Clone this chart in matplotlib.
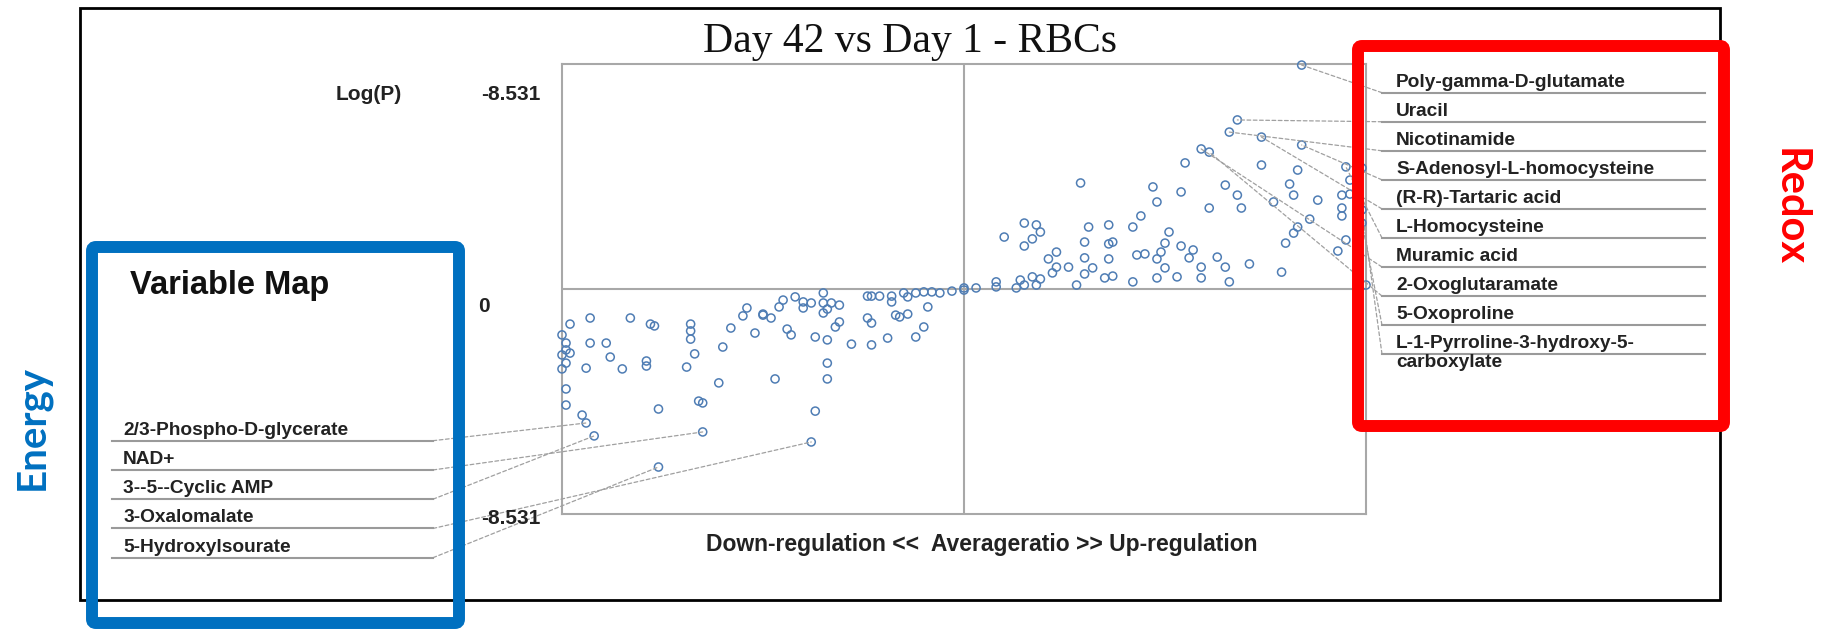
import matplotlib
matplotlib.use("Agg")
import matplotlib.pyplot as plt
from matplotlib.patches import Rectangle, FancyBboxPatch, ConnectionPatch

# ---- data: average ratio (scaled -1..1) and signed log(P) ----
y_limit = 8.531
y_tick_labels = ["-8.531", "0", "-8.531"]

down_ratio = [-0.98, -0.93, -0.83, -0.78, -0.77, -0.68, -0.68, -0.68, -1.00, -0.99,
              -0.99, -1.00, -0.98, -0.99, -1.00, -0.93, -0.89, -0.88, -0.94, -0.85,
              -0.79, -0.79, -0.69, -0.67, -0.60, -0.58, -0.54, -0.55, -0.50, -0.52,
              -0.61, -0.99, -0.99, -0.95, -0.76, -0.66, -0.65,
              -0.50, -0.48, -0.45, -0.46, -0.42, -0.40, -0.40, -0.38, -0.35, -0.35,
              -0.33, -0.31, -0.34, -0.35, -0.44, -0.43, -0.37, -0.34, -0.32, -0.31,
              -0.28, -0.23, -0.24, -0.23, -0.19, -0.24, -0.23, -0.21, -0.18, -0.18,
              -0.15, -0.14, -0.12, -0.10, -0.08, -0.06, -0.03, 0.00, -0.09, -0.17,
              -0.16, -0.14, -0.10, -0.12, -0.34, -0.47, -0.34, -0.37]
down_logp = [-1.33, -1.10, -1.10, -1.33, -1.40, -1.33, -1.59, -1.90, -1.74, -2.05,
             -2.31, -2.50, -2.43, -2.81, -3.03, -2.05, -2.05, -2.58, -3.00, -3.03,
             -2.73, -2.92, -2.96, -2.46, -2.20, -1.48, -0.72, -1.02, -0.95, -1.67,
             -3.56, -3.79, -4.40, -4.78, -4.55, -4.25, -4.32,
             -0.99, -1.10, -0.42, -0.68, -0.30, -0.49, -0.72, -0.53, -0.15, -0.53,
             -0.53, -0.61, -0.76, -0.91, -1.52, -1.74, -1.82, -1.93, -1.44, -1.25,
             -2.09, -2.12, -1.10, -1.29, -1.86, -0.27, -0.27, -0.27, -0.27, -0.49,
             -0.15, -0.30, -0.15, -0.11, -0.11, -0.15, -0.08, -0.04, -0.68, -0.99,
             -1.06, -0.95, -1.44, -1.82, -2.81, -3.41, -3.41, -4.63]

up_ratio = [0.00, 0.03, 0.08, 0.08, 0.13, 0.14, 0.15, 0.17, 0.18, 0.19,
            0.10, 0.15, 0.18, 0.19, 0.17, 0.15, 0.21, 0.23, 0.23, 0.22,
            0.26, 0.28, 0.29, 0.30, 0.30, 0.30, 0.31, 0.32, 0.35, 0.37,
            0.36, 0.36, 0.37, 0.36, 0.42, 0.42, 0.44, 0.43, 0.45, 0.47,
            0.48, 0.48, 0.49, 0.50, 0.50, 0.48, 0.51,
            0.55, 0.74, 0.83, 0.99, 0.96, 0.65, 0.81, 0.82, 0.68, 0.54,
            0.61, 0.69, 0.77, 0.88, 0.94, 0.96, 0.94, 0.94, 0.86, 0.83,
            0.82, 0.80, 0.54, 0.57, 0.56, 0.63, 0.59, 0.65, 0.71, 0.53,
            0.59, 0.66, 0.79, 0.95, 0.93, 1.00]
up_logp = [0.04, 0.04, 0.27, 0.08, 0.04, 0.34, 0.15, 0.46, 0.15, 0.38,
           1.97, 2.50, 2.43, 2.16, 1.90, 1.63, 1.14, 1.40, 0.83, 0.61,
           0.83, 0.15, 4.02, 1.78, 1.18, 0.57, 2.35, 0.80, 0.42, 0.49,
           1.14, 1.71, 1.78, 2.43, 0.27, 2.35, 2.77, 1.29, 1.33, 3.87,
           3.30, 1.14, 1.40, 1.74, 0.80, 0.42, 2.16,
           4.78, 4.70, 4.51, 4.59, 4.13, 3.94, 3.98, 3.56, 3.56, 3.68,
           3.07, 3.07, 3.30, 3.37, 3.56, 3.60, 3.07, 2.77, 2.65, 2.35,
           2.12, 1.74, 1.63, 1.48, 1.18, 1.21, 0.83, 0.83, 0.95, 0.46,
           0.42, 0.27, 0.64, 1.86, 1.44, 0.15]

energy_names = ["2/3-Phospho-D-glycerate", "NAD+", "3--5--Cyclic AMP",
                "3-Oxalomalate", "5-Hydroxylsourate"]
energy_ratio = [-0.94, -0.65, -0.92, -0.38, -0.76]
energy_logp = [-5.08, -5.42, -5.57, -5.80, -6.75]

redox_names = ["Poly-gamma-D-glutamate", "Uracil", "Nicotinamide",
               "S-Adenosyl-L-homocysteine", "(R-R)-Tartaric acid", "L-Homocysteine",
               "Muramic acid", "2-Oxoglutaramate", "5-Oxoproline",
               "L-1-Pyrroline-3-hydroxy-5-\ncarboxylate"]
redox_ratio = [0.84, 0.68, 0.66, 0.84, 0.74, 0.95, 0.59, 0.61, 0.99, 0.99]
redox_logp = [8.49, 6.41, 5.95, 5.46, 5.76, 4.63, 5.31, 5.19, 2.50, 3.00]

W, H = 1822, 630
fig = plt.figure(figsize=(W / 100, H / 100), dpi=100)

LABEL_FONT = "Liberation Sans"
text_col = "#222222"
grid_col = "#a8a8a8"
dot_col = "#4f7db4"

# scatter panel
ax = fig.add_axes([562 / W, 1 - 514 / H, 804 / W, 450 / H])
all_x = down_ratio + up_ratio + energy_ratio + redox_ratio
all_y = down_logp + up_logp + energy_logp + redox_logp
ax.scatter(all_x, all_y, s=34, facecolors="none", edgecolors=dot_col,
           linewidths=1.1, clip_on=False, zorder=3)
ax.axhline(0, color=grid_col, lw=1.5, zorder=1)
ax.axvline(0, color=grid_col, lw=1.5, zorder=1)
ax.set_xlim(-1, 1)
ax.set_ylim(-y_limit, y_limit)
ax.set_xticks([])
ax.set_yticks([])
for sp in ax.spines.values():
    sp.set_color(grid_col)
    sp.set_linewidth(1.5)

# overlay in pixel units for the annotations
ov = fig.add_axes([0, 0, 1, 1], zorder=5)
ov.set_xlim(0, W)
ov.set_ylim(H, 0)
ov.axis("off")
ov.patch.set_alpha(0)

ov.add_patch(Rectangle((80, 8), 1640, 592, fill=False, ec="black", lw=2))

ov.text(910, 52, "Day 42 vs Day 1 - RBCs", family="Liberation Serif",
        fontsize=30, ha="center", va="baseline", color="#111111")

tick_kw = dict(family=LABEL_FONT, fontweight="bold", fontsize=15, color=text_col)
ov.text(369, 95, "Log(P)", ha="center", va="center", **tick_kw)
ov.text(540, 95, y_tick_labels[0], ha="right", va="center", **tick_kw)
ov.text(490, 307, y_tick_labels[1], ha="right", va="center", **tick_kw)
ov.text(540, 518, y_tick_labels[2], ha="right", va="center", **tick_kw)

ov.text(982, 544, "Down-regulation <<  Averageratio >> Up-regulation",
        ha="center", va="center", family=LABEL_FONT, fontweight="bold",
        fontsize=16.5, color=text_col)

lab_kw = dict(family=LABEL_FONT, fontweight="bold", fontsize=13.8, color=text_col,
              va="baseline")
lead_kw = dict(color="#a0a0a0", lw=0.9, linestyle=(0, (3, 2)))

# left list: Energy metabolites
ov.text(130, 294, "Variable Map", family=LABEL_FONT, fontweight="bold",
        fontsize=23.5, color="#111111", va="baseline")
for i, name in enumerate(energy_names):
    yu = 440.7 + i * 29.25
    ov.plot([112, 433], [yu, yu], color="#9a9a9a", lw=1.5)
    ov.text(123, yu - 6, name, **lab_kw)
    con = ConnectionPatch(xyA=(433, yu), coordsA=ov.transData,
                          xyB=(energy_ratio[i], energy_logp[i]), coordsB=ax.transData,
                          **lead_kw)
    ov.add_artist(con)

# right list: Redox metabolites
for i, name in enumerate(redox_names):
    yu = 92.7 + i * 29.05
    ov.plot([1382, 1705], [yu, yu], color="#9a9a9a", lw=1.5)
    lines = name.split("\n")
    ov.text(1396, yu - 6, lines[0], **lab_kw)
    if len(lines) > 1:
        ov.text(1396, yu + 13, lines[1], **lab_kw)
    con = ConnectionPatch(xyA=(1382, yu), coordsA=ov.transData,
                          xyB=(redox_ratio[i], redox_logp[i]), coordsB=ax.transData,
                          **lead_kw)
    ov.add_artist(con)

# group boxes
ov.add_patch(FancyBboxPatch((92, 247), 367, 376, boxstyle="round,pad=0,rounding_size=4",
                            fill=False, ec="#0070C0", lw=8.6))
ov.add_patch(FancyBboxPatch((1358, 46), 366, 380, boxstyle="round,pad=0,rounding_size=4",
                            fill=False, ec="#FF0000", lw=8.6))

ov.text(32, 428, "Energy", family="Lato", fontweight="bold", fontsize=29,
        color="#0070C0", rotation=90, ha="center", va="center")
ov.text(1790, 207, "Redox", family="Lato", fontweight="bold", fontsize=30,
        color="#FF0000", rotation=-90, ha="center", va="center")

fig.savefig("out.png", dpi=100)
